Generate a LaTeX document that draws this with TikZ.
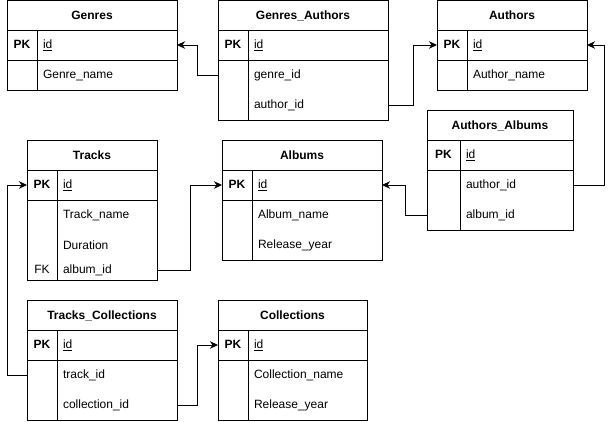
\documentclass[tikz,border=0pt]{standalone}
\usepackage{fontspec}
\setmainfont{Liberation Sans}
\usetikzlibrary{arrows.meta, positioning}
\newcommand{\keycell}[2][30pt]{\makebox[#1]{#2}\hspace{6pt}}
\newcommand{\rowstrut}{\rule[-2pt]{0pt}{12pt}}

\begin{document}
\begin{tikzpicture}[x=1pt, y=-1pt, line width=1pt,
  hdr/.style={draw, anchor=north west, minimum width=#1, minimum height=30pt, inner sep=0pt, outer sep=0pt, execute at begin node=\rowstrut, font=\fontsize{12pt}{14pt}\selectfont\bfseries},
  row/.style={text width=#1, minimum height=30pt, align=left, inner sep=0pt, outer sep=0pt, execute at begin node=\rowstrut, font=\fontsize{12pt}{14pt}\selectfont},
  fk/.style={-{Stealth[length=8pt, width=7.5pt, inset=2.5pt]}, line width=1pt}]
\useasboundingbox (0,0) rectangle (616,421);

% Genres
\node[hdr=170pt, minimum height=29.5pt] (genres) at (7,0.5) {Genres};
\node[row=170pt, below=0pt of genres] (genres-id) {\keycell{\textbf{PK}}\underline{id}};
\node[row=170pt, below=0pt of genres-id] (genres-name) {\keycell{}Genre\_name};
\draw (genres.north west) rectangle (genres-name.south east);
\draw (genres-id.south west) -- (genres-id.south east);
\draw ([xshift=30pt]genres.south west) -- ([xshift=30pt]genres-name.south west);

% Genres_Authors
\node[hdr=170pt, minimum height=29.5pt] (ga) at (218,0.5) {Genres\_Authors};
\node[row=170pt, below=0pt of ga] (ga-id) {\keycell{\textbf{PK}}\underline{id}};
\node[row=170pt, below=0pt of ga-id] (ga-genre) {\keycell{}genre\_id};
\node[row=170pt, below=0pt of ga-genre] (ga-author) {\keycell{}author\_id};
\draw (ga.north west) rectangle (ga-author.south east);
\draw (ga-id.south west) -- (ga-id.south east);
\draw ([xshift=30pt]ga.south west) -- ([xshift=30pt]ga-author.south west);

% Authors
\node[hdr=150pt, minimum height=29.5pt] (authors) at (437,0.5) {Authors};
\node[row=150pt, below=0pt of authors] (authors-id) {\keycell{\textbf{PK}}\underline{id}};
\node[row=150pt, below=0pt of authors-id] (authors-name) {\keycell{}Author\_name};
\draw (authors.north west) rectangle (authors-name.south east);
\draw (authors-id.south west) -- (authors-id.south east);
\draw ([xshift=30pt]authors.south west) -- ([xshift=30pt]authors-name.south west);

% Authors_Albums
\node[hdr=146pt] (aa) at (427,110) {Authors\_Albums};
\node[row=146pt, below=0pt of aa] (aa-id) {\keycell[33pt]{\textbf{PK}}\underline{id}};
\node[row=146pt, below=0pt of aa-id] (aa-author) {\keycell[33pt]{}author\_id};
\node[row=146pt, below=0pt of aa-author] (aa-album) {\keycell[33pt]{}album\_id};
\draw (aa.north west) rectangle (aa-album.south east);
\draw (aa-id.south west) -- (aa-id.south east);
\draw ([xshift=33pt]aa.south west) -- ([xshift=33pt]aa-album.south west);

% Tracks
\node[hdr=130pt] (tracks) at (27,140) {Tracks};
\node[row=130pt, below=0pt of tracks] (tracks-id) {\keycell{\textbf{PK}}\underline{id}};
\node[row=130pt, below=0pt of tracks-id] (tracks-name) {\keycell{}Track\_name};
\node[row=130pt, below=0pt of tracks-name] (tracks-dur) {\keycell{}Duration};
\node[row=130pt, minimum height=20pt, below=0pt of tracks-dur] (tracks-album) {\keycell{FK}album\_id};
\draw (tracks.north west) rectangle (tracks-album.south east);
\draw (tracks-id.south west) -- (tracks-id.south east);
\draw ([xshift=30pt]tracks.south west) -- ([xshift=30pt]tracks-album.south west);

% Albums
\node[hdr=160pt] (albums) at (222,140) {Albums};
\node[row=160pt, below=0pt of albums] (albums-id) {\keycell{\textbf{PK}}\underline{id}};
\node[row=160pt, below=0pt of albums-id] (albums-name) {\keycell{}Album\_name};
\node[row=160pt, below=0pt of albums-name] (albums-year) {\keycell{}Release\_year};
\draw (albums.north west) rectangle (albums-year.south east);
\draw (albums-id.south west) -- (albums-id.south east);
\draw ([xshift=30pt]albums.south west) -- ([xshift=30pt]albums-year.south west);

% Tracks_Collections
\node[hdr=150pt] (tc) at (27,300) {Tracks\_Collections};
\node[row=150pt, below=0pt of tc] (tc-id) {\keycell{\textbf{PK}}\underline{id}};
\node[row=150pt, below=0pt of tc-id] (tc-track) {\keycell{}track\_id};
\node[row=150pt, below=0pt of tc-track] (tc-coll) {\keycell{}collection\_id};
\draw (tc.north west) rectangle (tc-coll.south east);
\draw (tc-id.south west) -- (tc-id.south east);
\draw ([xshift=30pt]tc.south west) -- ([xshift=30pt]tc-coll.south west);

% Collections
\node[hdr=149pt] (coll) at (218,300) {Collections};
\node[row=149pt, below=0pt of coll] (coll-id) {\keycell{\textbf{PK}}\underline{id}};
\node[row=149pt, below=0pt of coll-id] (coll-name) {\keycell{}Collection\_name};
\node[row=149pt, below=0pt of coll-name] (coll-year) {\keycell{}Release\_year};
\draw (coll.north west) rectangle (coll-year.south east);
\draw (coll-id.south west) -- (coll-id.south east);
\draw ([xshift=30pt]coll.south west) -- ([xshift=30pt]coll-year.south west);

% foreign keys
\draw[fk] (ga-genre.west) -- ++(-21,0) |- (genres-id.east);
\draw[fk] (ga-author.east) -- ++(25,0) |- (authors-id.west);
\draw[fk] (aa-author.east) -- ++(31,0) |- (authors-id.east);
\draw[fk] (aa-album.west) -- ++(-22,0) |- (albums-id.east);
\draw[fk] (tracks-album.east) -- ++(33,0) |- (albums-id.west);
\draw[fk] (tc-track.west) -- ++(-20,0) |- (tracks-id.west);
\draw[fk] (tc-coll.east) -- ++(20,0) |- (coll-id.west);
\end{tikzpicture}
\end{document}
